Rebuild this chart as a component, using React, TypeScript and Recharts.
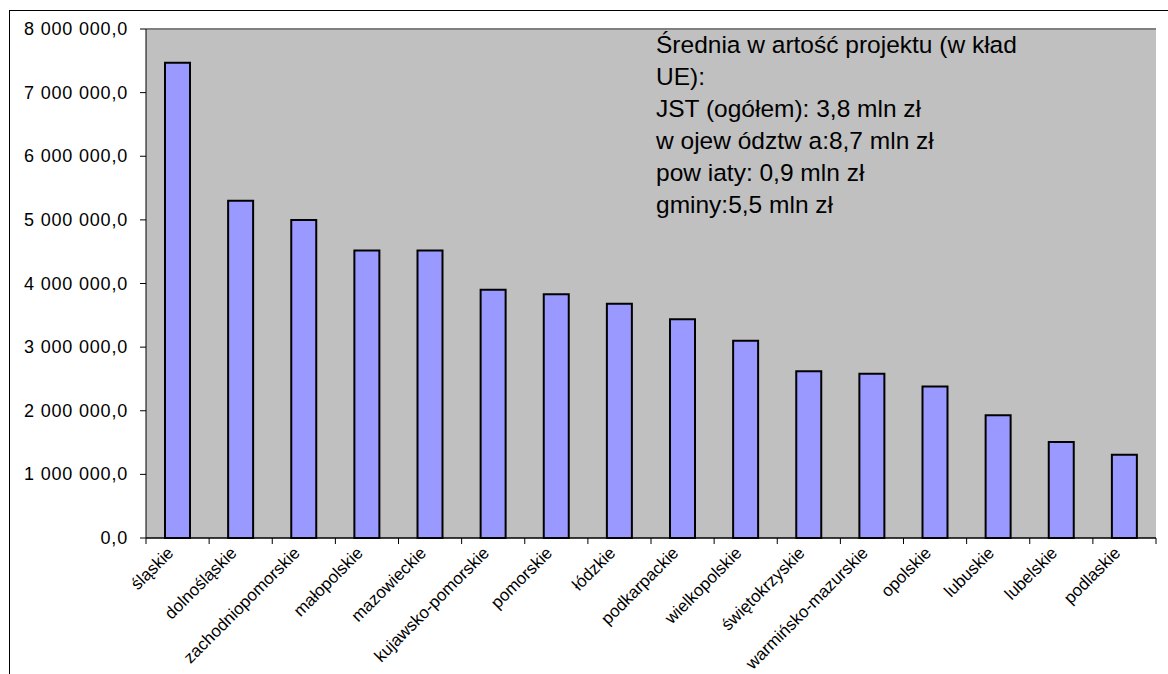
import React from 'react';
import { BarChart, Bar, XAxis, YAxis, CartesianGrid, ReferenceLine } from 'recharts';

const regions = [
  'śląskie', 'dolnośląskie', 'zachodniopomorskie', 'małopolskie', 'mazowieckie', 'kujawsko-pomorskie',
  'pomorskie', 'łódzkie', 'podkarpackie', 'wielkopolskie', 'świętokrzyskie', 'warmińsko-mazurskie',
  'opolskie', 'lubuskie', 'lubelskie', 'podlaskie',
];
const avgValues = [
  7470000, 5300000, 5000000, 4520000, 4520000, 3900000, 3830000, 3680000,
  3440000, 3100000, 2620000, 2580000, 2380000, 1930000, 1510000, 1310000,
];
const yTicks = [0, 1000000, 2000000, 3000000, 4000000, 5000000, 6000000, 7000000, 8000000];
const noteLines = [
  'Średnia w artość projektu (w kład',
  'UE):',
  'JST (ogółem): 3,8 mln zł',
  'w ojew ództw a:8,7 mln zł',
  'pow iaty: 0,9 mln zł',
  'gminy:5,5 mln zł',
];

const FONT = '"Liberation Sans", Arial, sans-serif';
const BAND = (1156 - 146) / regions.length;

const fmt = (v: number) => Math.round(v).toString().replace(/\B(?=(\d{3})+(?!\d))/g, ' ') + ',0';

const CategoryTick = (props: any) => {
  const { x, y, payload, index } = props;
  const left = x - BAND / 2;
  const ax = x - 3;
  const ay = y + 16;
  return (
    <g>
      <line x1={left} y1={y} x2={left} y2={y + 6} stroke="#000" />
      {index === regions.length - 1 && <line x1={x + BAND / 2} y1={y} x2={x + BAND / 2} y2={y + 6} stroke="#000" />}
      <text
        x={ax}
        y={ay}
        transform={`rotate(-45, ${ax}, ${ay})`}
        textAnchor="end"
        fontSize={17}
        fontFamily={FONT}
        fill="#000"
      >
        {payload.value}
      </text>
    </g>
  );
};

const ValueTick = (props: any) => {
  const { x, y, payload } = props;
  return (
    <text x={x} y={y} dy={6} textAnchor="end" fontSize={18} letterSpacing={0.8} fontFamily={FONT} fill="#000">
      {fmt(payload.value)}
    </text>
  );
};

export default function App() {
  const data = regions.map((name, i) => ({ name, value: avgValues[i] }));
  return (
    <div style={{ position: 'absolute', left: 0, top: 0, width: 1168, height: 674, background: '#fff', overflow: 'hidden' }}>
      <div style={{ position: 'absolute', left: 9, top: 10, width: 1170, height: 680, borderTop: '1px solid #000', borderLeft: '1px solid #000' }} />
      <BarChart width={1168} height={674} data={data} margin={{ top: 29, right: 12, bottom: 6, left: 6 }} barCategoryGap={0}>
        <CartesianGrid vertical={false} stroke="#000" fill="#C0C0C0" fillOpacity={1} />
        <XAxis
          dataKey="name"
          interval={0}
          height={130}
          tickLine={false}
          tickSize={0}
          tickMargin={0}
          axisLine={{ stroke: '#000' }}
          tick={<CategoryTick />}
        />
        <YAxis
          yAxisId="l"
          width={140}
          domain={[0, 8000000]}
          ticks={yTicks}
          tickSize={6}
          tickMargin={12}
          axisLine={{ stroke: '#000' }}
          tickLine={{ stroke: '#000' }}
          tick={<ValueTick />}
        />
        <YAxis yAxisId="r" orientation="right" width={0} tick={false} tickLine={false} axisLine={{ stroke: '#808080', strokeWidth: 2 }} />
        <ReferenceLine yAxisId="l" y={8000000} stroke="#808080" strokeWidth={2} />
        <Bar yAxisId="l" dataKey="value" fill="#9999FF" stroke="#000" strokeWidth={2} barSize={25} isAnimationActive={false} />
      </BarChart>
      <div style={{ position: 'absolute', left: 656, top: 29, fontFamily: FONT, fontSize: 24.5, lineHeight: '32px', color: '#000', whiteSpace: 'pre' }}>
        {noteLines.map((l) => (
          <div key={l}>{l}</div>
        ))}
      </div>
    </div>
  );
}
